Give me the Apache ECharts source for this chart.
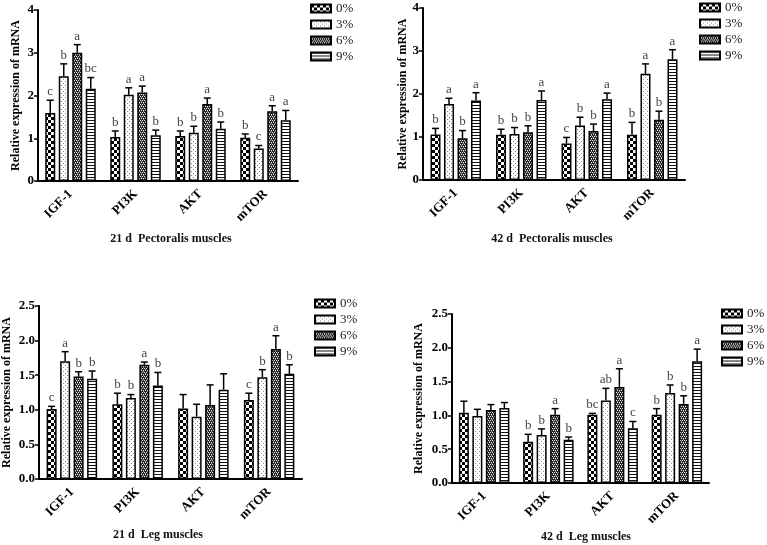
<!DOCTYPE html>
<html>
<head>
<meta charset="utf-8">
<script src="https://cdn.jsdelivr.net/npm/echarts@6/dist/echarts.min.js"></script>
<style>
  html, body { margin: 0; background: #fff; }
  #main { width: 767px; height: 545px; }
</style>
</head>
<body>
<div id="main"></div>
<script>
var categories = ['IGF-1', 'PI3K', 'AKT', 'mTOR'];
var groups = ['0%', '3%', '6%', '9%'];

// 21 d Pectoralis muscles
var pec21Mean = [[1.59, 1.03, 1.05, 1.01], [2.45, 2.02, 1.13, 0.76], [3.00, 2.07, 1.80, 1.63], [2.16, 1.07, 1.22, 1.42]];
var pec21Err = [[0.30, 0.14, 0.12, 0.09], [0.29, 0.16, 0.15, 0.07], [0.19, 0.15, 0.14, 0.13], [0.26, 0.12, 0.16, 0.23]];
var pec21Sig = [['c', 'b', 'b', 'b'], ['b', 'a', 'b', 'c'], ['a', 'a', 'a', 'a'], ['bc', 'b', 'b', 'a']];

// 42 d Pectoralis muscles
var pec42Mean = [[1.06, 1.05, 0.85, 1.05], [1.77, 1.07, 1.27, 2.47], [0.97, 1.11, 1.14, 1.40], [1.85, 1.86, 1.88, 2.81]];
var pec42Err = [[0.14, 0.13, 0.14, 0.29], [0.13, 0.15, 0.19, 0.23], [0.18, 0.15, 0.16, 0.20], [0.18, 0.21, 0.14, 0.22]];
var pec42Sig = [['b', 'b', 'c', 'b'], ['a', 'b', 'b', 'a'], ['b', 'b', 'b', 'b'], ['a', 'a', 'a', 'a']];

// 21 d Leg muscles
var leg21Mean = [[1.01, 1.08, 1.02, 1.14], [1.70, 1.17, 0.90, 1.47], [1.48, 1.65, 1.07, 1.88], [1.45, 1.35, 1.29, 1.52]];
var leg21Err = [[0.04, 0.16, 0.20, 0.10], [0.14, 0.05, 0.18, 0.11], [0.07, 0.04, 0.29, 0.19], [0.11, 0.19, 0.23, 0.13]];
var leg21Sig = [['c', 'b', '', 'c'], ['a', 'b', '', 'b'], ['b', 'a', '', 'a'], ['b', 'b', '', 'b']];

// 42 d Leg muscles
var leg42Mean = [[1.04, 0.61, 1.01, 1.01], [0.99, 0.71, 1.22, 1.33], [1.08, 1.01, 1.42, 1.17], [1.11, 0.64, 0.81, 1.80]];
var leg42Err = [[0.17, 0.11, 0.02, 0.09], [0.10, 0.09, 0.18, 0.12], [0.08, 0.09, 0.27, 0.12], [0.08, 0.04, 0.10, 0.18]];
var leg42Sig = [['', 'b', 'bc', 'b'], ['', 'b', 'ab', 'b'], ['', 'a', 'a', 'b'], ['', 'b', 'c', 'a']];

var SERIF = '"Liberation Serif", "DejaVu Serif", serif';
var BAR_W = 10;
var BAR_GAP = 3.5;

// fill patterns for the four groups
function makePattern(kind) {
  var c = document.createElement('canvas');
  var ctx = c.getContext('2d');
  if (kind === 0) {
    c.width = 6; c.height = 6;
    ctx.fillStyle = '#fff'; ctx.fillRect(0, 0, 6, 6);
    ctx.fillStyle = '#000';
    ctx.fillRect(0, 0, 3, 3); ctx.fillRect(3, 3, 3, 3);
  } else if (kind === 1) {
    c.width = 4; c.height = 4;
    ctx.fillStyle = '#fff'; ctx.fillRect(0, 0, 4, 4);
    ctx.fillStyle = '#888';
    ctx.fillRect(1, 1, 1, 1); ctx.fillRect(3, 3, 1, 1);
  } else if (kind === 2) {
    // dense dark checker with light specks
    c.width = 4; c.height = 4;
    ctx.fillStyle = '#262626'; ctx.fillRect(0, 0, 4, 4);
    ctx.fillStyle = '#e8e8e8';
    ctx.fillRect(0, 0, 1, 1); ctx.fillRect(2, 0, 1, 1);
    ctx.fillRect(1, 2, 1, 1); ctx.fillRect(3, 2, 1, 1);
    ctx.fillStyle = '#8a8a8a';
    ctx.fillRect(1, 1, 1, 1); ctx.fillRect(3, 3, 1, 1);
  } else {
    c.width = 3; c.height = 3;
    ctx.fillStyle = '#fff'; ctx.fillRect(0, 0, 3, 3);
    ctx.fillStyle = '#111';
    ctx.fillRect(0, 0, 3, 1);
  }
  return { image: c, repeat: 'repeat' };
}
var patterns = [0, 1, 2, 3].map(makePattern);

var panels = [
  { mean: pec21Mean, err: pec21Err, sig: pec21Sig, max: 4, interval: 1, dec: 0,
    grid: { left: 38, top: 10, width: 260, height: 171 }, nameGap: 16,
    legend: { left: 310, top: 2 }, title: '21 d  Pectoralis muscles', tx: 171, ty: 239 },
  { mean: pec42Mean, err: pec42Err, sig: pec42Sig, max: 4, interval: 1, dec: 0,
    grid: { left: 423, top: 8, width: 262, height: 172 }, nameGap: 11,
    legend: { left: 699, top: 1 }, title: '42 d  Pectoralis muscles', tx: 552, ty: 239 },
  { mean: leg21Mean, err: leg21Err, sig: leg21Sig, max: 2.5, interval: 0.5, dec: 1,
    grid: { left: 39, top: 306, width: 263, height: 173 }, nameGap: 26,
    legend: { left: 314, top: 297 }, title: '21 d  Leg muscles', tx: 158, ty: 535 },
  { mean: leg42Mean, err: leg42Err, sig: leg42Sig, max: 2.5, interval: 0.5, dec: 1,
    grid: { left: 452, top: 314, width: 257, height: 169 }, nameGap: 27,
    legend: { left: 721, top: 307 }, title: '42 d  Leg muscles', tx: 586, ty: 537 }
];

var grids = [], xAxes = [], yAxes = [], legends = [], series = [], graphics = [];

panels.forEach(function (p, pi) {
  grids.push(p.grid);
  xAxes.push({
    type: 'category', gridIndex: pi, data: categories,
    axisLine: { lineStyle: { color: '#000', width: 2 } },
    axisTick: { alignWithLabel: true, length: 5, lineStyle: { color: '#000', width: 1.5 } },
    axisLabel: { rotate: 45, margin: 11, color: '#000', fontFamily: SERIF, fontWeight: 'bold', fontSize: 13 }
  });
  yAxes.push({
    type: 'value', gridIndex: pi, min: 0, max: p.max, interval: p.interval,
    name: 'Relative expression of mRNA', nameLocation: 'middle', nameGap: p.nameGap,
    nameTextStyle: { color: '#000', fontFamily: SERIF, fontWeight: 'bold', fontSize: 12 },
    axisLine: { show: true, lineStyle: { color: '#000', width: 2 } },
    axisTick: { show: true, length: 4, lineStyle: { color: '#000', width: 1.5 } },
    splitLine: { show: false },
    axisLabel: {
      margin: 4, color: '#000', fontFamily: SERIF, fontWeight: 'bold', fontSize: 13,
      formatter: function (v) { return v.toFixed(p.dec); }
    }
  });
  legends.push({
    left: p.legend.left, top: p.legend.top, orient: 'vertical', padding: 0,
    itemWidth: 20, itemHeight: 8, itemGap: 3, icon: 'rect', data: groups,
    selectedMode: false,
    textStyle: { color: '#222', fontFamily: SERIF, fontSize: 13 }
  });

  var errData = [];
  groups.forEach(function (g, gi) {
    series.push({
      name: g, type: 'bar', xAxisIndex: pi, yAxisIndex: pi,
      barWidth: BAR_W, barGap: (BAR_GAP / BAR_W * 100) + '%',
      data: p.mean[gi],
      itemStyle: { color: patterns[gi], borderColor: '#000', borderWidth: 1.5 }
    });
    p.mean[gi].forEach(function (m, ci) {
      errData.push([ci, m, +(m + p.err[gi][ci]).toFixed(3), gi]);
    });
  });

  series.push({
    type: 'custom', xAxisIndex: pi, yAxisIndex: pi, z: 5, clip: false,
    data: errData,
    renderItem: function (params, api) {
      var ci = api.value(0), gi = api.value(3);
      var base = api.coord([ci, api.value(1)]);
      var top = api.coord([ci, api.value(2)]);
      var x = base[0] + (gi - 1.5) * (BAR_W + BAR_GAP);
      var ls = { stroke: '#000', lineWidth: 1.5 };
      return {
        type: 'group',
        children: [
          { type: 'line', shape: { x1: x, y1: base[1], x2: x, y2: top[1] }, style: ls },
          { type: 'line', shape: { x1: x - 3.5, y1: top[1], x2: x + 3.5, y2: top[1] }, style: ls },
          { type: 'text', style: {
              text: p.sig[gi][ci], x: x, y: top[1] - 2, align: 'center', verticalAlign: 'bottom',
              font: '13px ' + SERIF, fill: '#444' } }
        ]
      };
    }
  });

  graphics.push({
    type: 'text', x: p.tx, y: p.ty,
    style: { text: p.title, align: 'center', verticalAlign: 'middle',
             font: 'bold 12px ' + SERIF, fill: '#111' }
  });
});

var chart = echarts.init(document.getElementById('main'), null, { renderer: 'canvas' });
chart.setOption({
  backgroundColor: '#fff',
  animation: false,
  grid: grids,
  xAxis: xAxes,
  yAxis: yAxes,
  legend: legends,
  series: series,
  graphic: graphics
});
</script>
</body>
</html>
